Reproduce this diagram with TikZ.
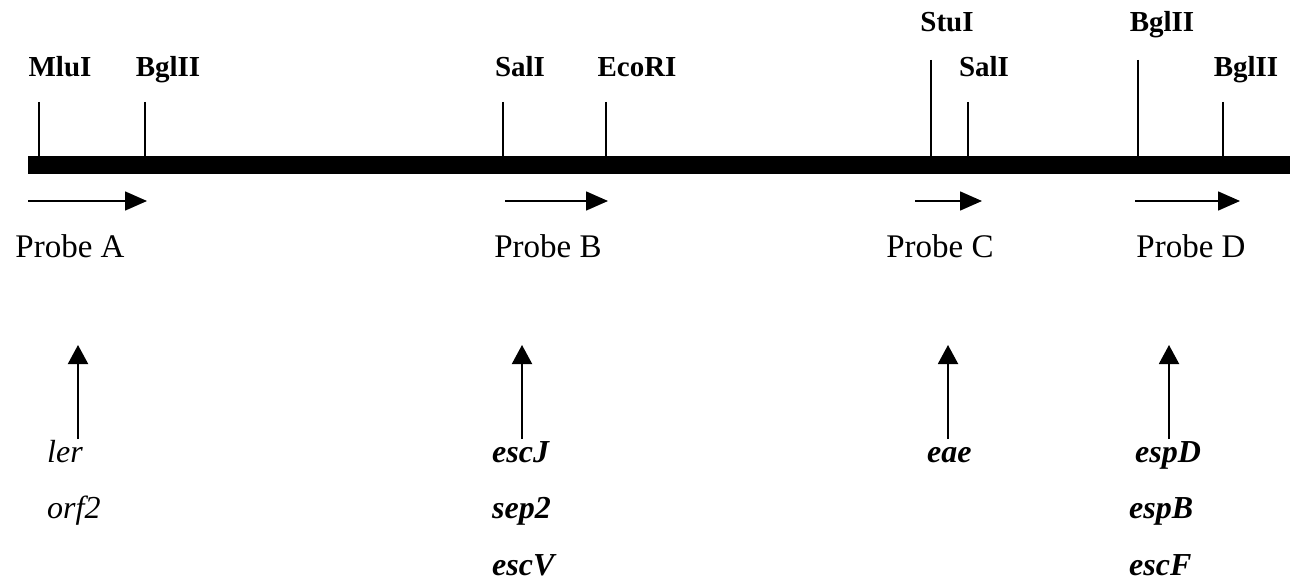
\documentclass[tikz,border=0pt]{standalone}
\usepackage{fontspec}
\setmainfont{Liberation Serif}
\usetikzlibrary{arrows.meta}
\begin{document}
\begin{tikzpicture}[x=1pt,y=-1pt,
  site/.style={font=\fontsize{29}{30}\selectfont\bfseries, anchor=base, inner sep=0pt},
  probe/.style={font=\fontsize{33}{34}\selectfont, anchor=base, inner sep=0pt},
  gene/.style={font=\fontsize{32}{33}\selectfont\itshape, anchor=base west, inner sep=0pt},
  geneb/.style={font=\fontsize{32}{33}\selectfont\bfseries\itshape, anchor=base west, inner sep=0pt},
  tick/.style={line width=2pt},
  bar/.style={line width=18pt},
  probearrow/.style={line width=1.6pt, -{Triangle[length=22pt,width=19pt]}},
  uparrow/.style={line width=2pt, -{Triangle[length=19pt,width=20pt]}}]
\useasboundingbox (0,0) rectangle (1290,585);
% main bar
\coordinate (barL) at (28,165);
\coordinate (barR) at (1290,165);
\draw[bar] (barL) -- (barR);
% restriction sites
\node[site] (mlu) at (60,77) {MluI};
\node[site] (bgl1) at (168,77) {BglII};
\node[site] (sal1) at (520,77) {SalI};
\node[site] (eco) at (637,77) {EcoRI};
\node[site] (stu) at (947,32) {StuI};
\node[site] (sal2) at (984,77) {SalI};
\node[site] (bgl2) at (1162,32) {BglII};
\node[site] (bgl3) at (1246,77) {BglII};
\foreach \n/\x/\t in {mlu/39/102, bgl1/145/102, sal1/503/102, eco/606/102, stu/931/60, sal2/968/102, bgl2/1138/60, bgl3/1223/102}{
  \coordinate (\n t) at (\x,\t);
  \coordinate (\n b) at (\x,157);
  \draw[tick] (\n t) -- (\n b);
}
% probes
\foreach \n/\a/\b in {pA/28/147, pB/505/608, pC/915/982, pD/1135/1240}{
  \coordinate (\n s) at (\a,201);
  \coordinate (\n e) at (\b,201);
  \draw[probearrow] (\n s) -- (\n e);
}
\node[probe] (probeA) at (70,258) {Probe A};
\node[probe] (probeB) at (548,258) {Probe B};
\node[probe] (probeC) at (940,258) {Probe C};
\node[probe] (probeD) at (1191,258) {Probe D};
% genes
\node[gene] (ler) at (47,462) {ler};
\node[gene] (orf) at (47,518) {orf2};
\node[geneb] (escJ) at (492,462) {escJ};
\node[geneb] (sep) at (492,518) {sep2};
\node[geneb] (escV) at (492,575) {escV};
\node[geneb] (eae) at (927,462) {eae};
\node[geneb] (espD) at (1135,462) {espD};
\node[geneb] (espB) at (1129,518) {espB};
\node[geneb] (escF) at (1129,575) {escF};
% up arrows
\foreach \n/\x in {uA/78, uB/522, uC/948, uD/1169}{
  \coordinate (\n b) at (\x,439);
  \coordinate (\n t) at (\x,345);
  \draw[uparrow] (\n b) -- (\n t);
}
\end{tikzpicture}
\end{document}
